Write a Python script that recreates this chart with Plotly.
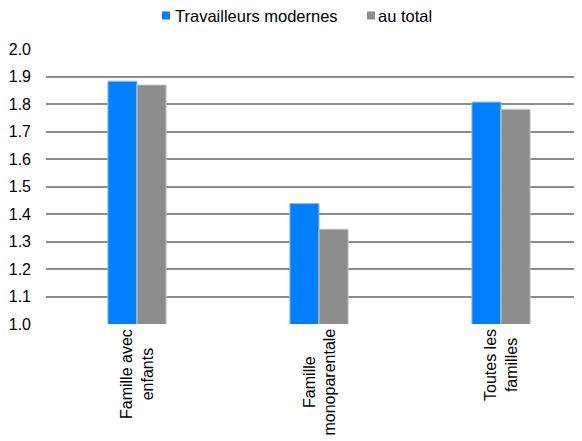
import plotly.graph_objects as go

categories = ["Famille avec<br>enfants", "Famille<br>monoparentale", "Toutes les<br>familles"]
series_names = ["Travailleurs modernes", "au total"]
travailleurs = [1.883, 1.438, 1.807]
total = [1.869, 1.345, 1.781]
yticks = [1.0, 1.1, 1.2, 1.3, 1.4, 1.5, 1.6, 1.7, 1.8, 1.9, 2.0]

BLUE = "#0080FF"
GRAY = "#8c8c8c"
FONT = "Liberation Sans, Arial, sans-serif"

fig = go.Figure()
fig.add_trace(go.Bar(x=categories, y=travailleurs, name=series_names[0],
                     marker=dict(color=BLUE, line=dict(color="#8fc4ff", width=1))))
fig.add_trace(go.Bar(x=categories, y=total, name=series_names[1],
                     marker=dict(color=GRAY, line=dict(color="#c8c8c8", width=1))))

# category labels (rotated, centred lines)
for c in categories:
    fig.add_annotation(x=c, xref="x", y=0, yref="paper", text=c, textangle=-90,
                       showarrow=False, xanchor="center", yanchor="top", yshift=-3,
                       align="center", font=dict(size=16, family=FONT, color="#000"))

# legend items (square swatch + label)
legend_items = [(series_names[0], BLUE, 0.2164, 0.2369), (series_names[1], GRAY, 0.5989, 0.6157)]
for name, color, sx, tx in legend_items:
    fig.add_shape(type="rect", xref="paper", yref="paper", x0=sx, x1=sx + 0.0149,
                  y0=1.1073, y1=1.1364, fillcolor=color, line=dict(width=0))
    fig.add_annotation(x=tx, xref="paper", y=1.1218, yref="paper", text=name,
                       showarrow=False, xanchor="left", yanchor="middle",
                       font=dict(size=16.5, family=FONT, color="#000"))

fig.update_layout(
    width=574, height=433,
    margin=dict(l=38, r=0, t=41, b=117),
    paper_bgcolor="white", plot_bgcolor="white",
    font=dict(family=FONT, size=16, color="#000000"),
    barmode="group", bargap=0.68, bargroupgap=0,
    showlegend=False,
    xaxis=dict(type="category", range=[-0.5, 2.445], showgrid=False,
               showline=False, ticks="", showticklabels=False),
    yaxis=dict(range=[1.0, 2.0], tickvals=yticks, tickformat=".1f", showgrid=True,
               gridcolor=GRAY, gridwidth=2, zeroline=False, showline=False,
               ticks="", ticklabelstandoff=14, tickfont=dict(size=16)),
)
fig.write_html("out.html")
